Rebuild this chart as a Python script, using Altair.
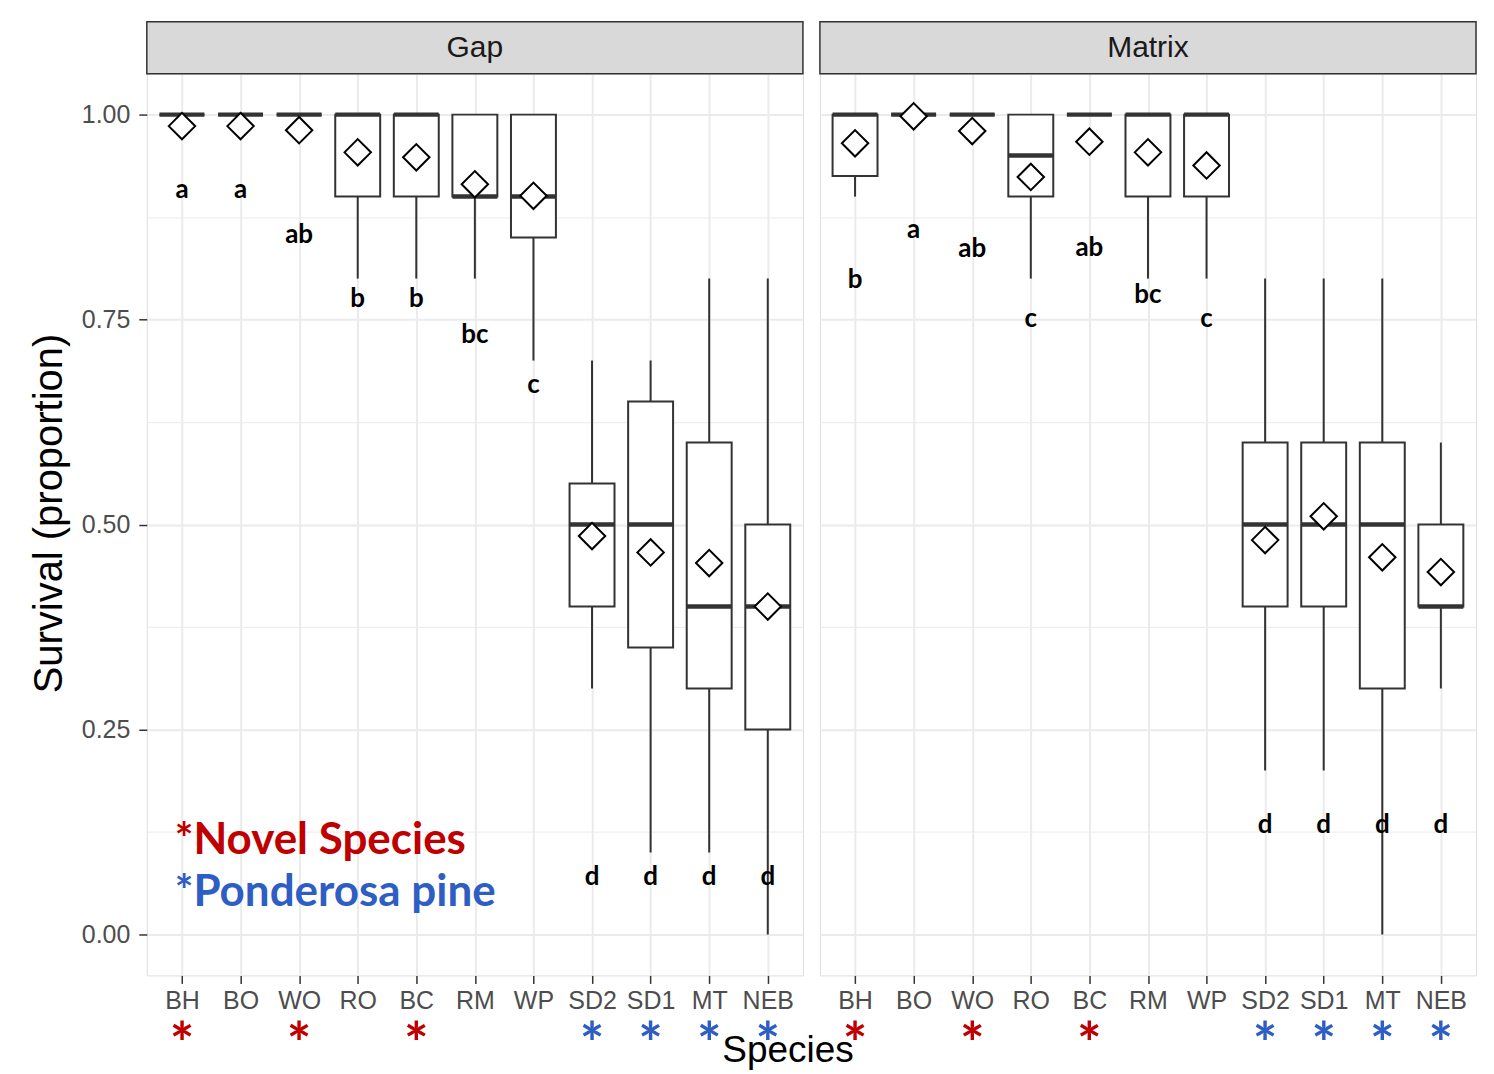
import altair as alt
import pandas as pd

# ---------------- data ----------------
species = ["BH", "BO", "WO", "RO", "BC", "RM", "WP", "SD2", "SD1", "MT", "NEB"]
species_group = ["novel", "", "novel", "", "novel", "", "", "pine", "pine", "pine", "pine"]
sites = ["Gap", "Matrix"]

gap_lower = [1.00, 1.00, 1.00, 0.80, 0.80, 0.80, 0.70, 0.30, 0.10, 0.10, 0.00]
gap_q1 = [1.00, 1.00, 1.00, 0.90, 0.90, 0.90, 0.85, 0.40, 0.35, 0.30, 0.25]
gap_median = [1.00, 1.00, 1.00, 1.00, 1.00, 0.90, 0.90, 0.50, 0.50, 0.40, 0.40]
gap_q3 = [1.00, 1.00, 1.00, 1.00, 1.00, 1.00, 1.00, 0.55, 0.65, 0.60, 0.50]
gap_upper = [1.00, 1.00, 1.00, 1.00, 1.00, 1.00, 1.00, 0.70, 0.70, 0.80, 0.80]
gap_mean = [0.986, 0.986, 0.981, 0.954, 0.948, 0.915, 0.901, 0.486, 0.466, 0.453, 0.400]
gap_letters = ["a", "a", "ab", "b", "b", "bc", "c", "d", "d", "d", "d"]
gap_letter_y = [0.898, 0.898, 0.843, 0.765, 0.765, 0.722, 0.661, 0.060, 0.060, 0.060, 0.060]

mat_lower = [0.90, 1.00, 1.00, 0.80, 1.00, 0.80, 0.80, 0.20, 0.20, 0.00, 0.30]
mat_q1 = [0.925, 1.00, 1.00, 0.90, 1.00, 0.90, 0.90, 0.40, 0.40, 0.30, 0.40]
mat_median = [1.00, 1.00, 1.00, 0.95, 1.00, 1.00, 1.00, 0.50, 0.50, 0.50, 0.40]
mat_q3 = [1.00, 1.00, 1.00, 1.00, 1.00, 1.00, 1.00, 0.60, 0.60, 0.60, 0.50]
mat_upper = [1.00, 1.00, 1.00, 1.00, 1.00, 1.00, 1.00, 0.80, 0.80, 0.80, 0.60]
mat_mean = [0.965, 0.998, 0.980, 0.924, 0.967, 0.954, 0.938, 0.481, 0.510, 0.460, 0.442]
mat_letters = ["b", "a", "ab", "c", "ab", "bc", "c", "d", "d", "d", "d"]
mat_letter_y = [0.788, 0.849, 0.826, 0.741, 0.827, 0.770, 0.741, 0.124, 0.124, 0.124, 0.124]

legend_labels = ["*Novel Species", "*Ponderosa pine"]
x_title = "Species"
y_title = "Survival (proportion)"
y_ticks = [0, 0.125, 0.25, 0.375, 0.5, 0.625, 0.75, 0.875, 1.0]

RED = "#C00000"
BLUE = "#2E5EC4"
DARK = "#333333"

rows = []
for site, lo, q1, md, q3, up, mn, lt, ly in [
    ("Gap", gap_lower, gap_q1, gap_median, gap_q3, gap_upper, gap_mean, gap_letters, gap_letter_y),
    ("Matrix", mat_lower, mat_q1, mat_median, mat_q3, mat_upper, mat_mean, mat_letters, mat_letter_y),
]:
    for i, sp in enumerate(species):
        rows.append(dict(site=site, species=sp, group=species_group[i], lower=lo[i], q1=q1[i],
                         median=md[i], q3=q3[i], upper=up[i], mean=mn[i], letter=lt[i], letter_y=ly[i]))
df = pd.DataFrame(rows)

W, H = 657, 903
STRIP = 52

yscale = alt.Scale(domain=[-0.05, 1.05], nice=False, zero=False)
minor_test = "datum.value % 0.25 != 0"


def panel(site, first):
    d = df[df.site == site]
    xaxis = alt.Axis(title=None, labelAngle=0, labelFontSize=25, labelColor="#4D4D4D",
                     labelFont="Liberation Sans", labelPadding=5, labelOverlap=False,
                     tickSize=8, tickColor=DARK, tickWidth=1.5, grid=True, gridColor="#EBEBEB",
                     gridWidth=2, domain=False)
    xenc = alt.X("species:N", sort=species, scale=alt.Scale(type="point", padding=0.6), axis=xaxis)
    if first:
        yaxis = alt.Axis(values=y_ticks, title=y_title, titleFontSize=40,
                         titleFont="Liberation Sans", titleFontWeight="normal", titleColor="black",
                         titlePadding=12, titleY=440,
                         labelExpr="datum.value % 0.25 == 0 ? format(datum.value, '.2f') : ''",
                         labelFontSize=25, labelColor="#4D4D4D", labelFont="Liberation Sans",
                         labelPadding=9, labelOverlap=False,
                         tickSize=8, tickColor=DARK, tickWidth=1.5,
                         tickOpacity={"condition": {"test": minor_test, "value": 0}, "value": 1},
                         grid=True, gridColor="#EBEBEB",
                         gridWidth={"condition": {"test": minor_test, "value": 1}, "value": 2},
                         domain=False)
    else:
        yaxis = alt.Axis(values=y_ticks, title=None, labels=False, ticks=False, domain=False,
                         grid=True, gridColor="#EBEBEB",
                         gridWidth={"condition": {"test": minor_test, "value": 1}, "value": 2})

    def ych(field):
        return alt.Y(field, scale=yscale, axis=yaxis)

    base = alt.Chart(d)
    whisk = base.mark_rule(color=DARK, strokeWidth=2).encode(x=xenc, y=ych("lower:Q"), y2="upper:Q")
    box = base.mark_bar(width=45, fill="white", stroke=DARK, strokeWidth=2).encode(
        x=xenc, y=ych("q1:Q"), y2="q3:Q")
    med = base.mark_tick(color=DARK, thickness=4.5, size=45, opacity=1).encode(x=xenc, y=ych("median:Q"))
    mean = base.mark_point(shape="diamond", size=700, filled=True, fill="white", stroke="black",
                           strokeWidth=2, opacity=1).encode(x=xenc, y=ych("mean:Q"))
    lett = base.mark_text(font="Lato", fontWeight="bold", fontSize=26, color="black",
                          baseline="alphabetic").encode(x=xenc, y=ych("letter_y:Q"), text="letter:N")
    stars = base.transform_filter("datum.group != ''").mark_text(
        text="*", font="Lato", fontWeight="bold", fontSize=58, baseline="middle").encode(
        x=xenc, y=alt.value(H + 72),
        color=alt.Color("group:N", scale=alt.Scale(domain=["novel", "pine"], range=[RED, BLUE]), legend=None))

    sdata = alt.Data(values=[{"site": site}])
    strip_rect = alt.Chart(sdata).mark_rect(fill="#D9D9D9", stroke=DARK, strokeWidth=1.5).encode(
        x=alt.value(0), x2=alt.value(W), y=alt.value(-STRIP), y2=alt.value(0))
    strip_text = alt.Chart(sdata).mark_text(font="Liberation Sans", fontSize=30, color="#1A1A1A",
                                            baseline="middle").encode(
        x=alt.value(W / 2), y=alt.value(-STRIP / 2), text="site:N")

    layers = [whisk, box, med, mean, lett, stars, strip_rect, strip_text]
    if first:
        leg1 = alt.Chart(sdata).mark_text(text=legend_labels[0], font="Lato", fontWeight="bold",
                                          fontSize=44, color=RED, align="left",
                                          baseline="alphabetic").encode(x=alt.value(28), y=alt.value(781))
        leg2 = alt.Chart(sdata).mark_text(text=legend_labels[1], font="Lato", fontWeight="bold",
                                          fontSize=44, color=BLUE, align="left",
                                          baseline="alphabetic").encode(x=alt.value(28), y=alt.value(833))
        xt = alt.Chart(sdata).mark_text(text=x_title, font="Liberation Sans", fontSize=37,
                                        color="black", align="center",
                                        baseline="alphabetic").encode(x=alt.value(642), y=alt.value(H + 87))
        layers += [leg1, leg2, xt]
    return alt.layer(*layers).properties(width=W, height=H)


chart = alt.hconcat(panel("Gap", True), panel("Matrix", False), spacing=17, bounds="flush").properties(
    padding={"left": 20, "top": 11, "right": 8, "bottom": 0},
).configure_view(stroke=DARK, strokeWidth=1.5).configure(background="white")

chart.save("out.html", embed_options={"renderer": "svg", "actions": False})
